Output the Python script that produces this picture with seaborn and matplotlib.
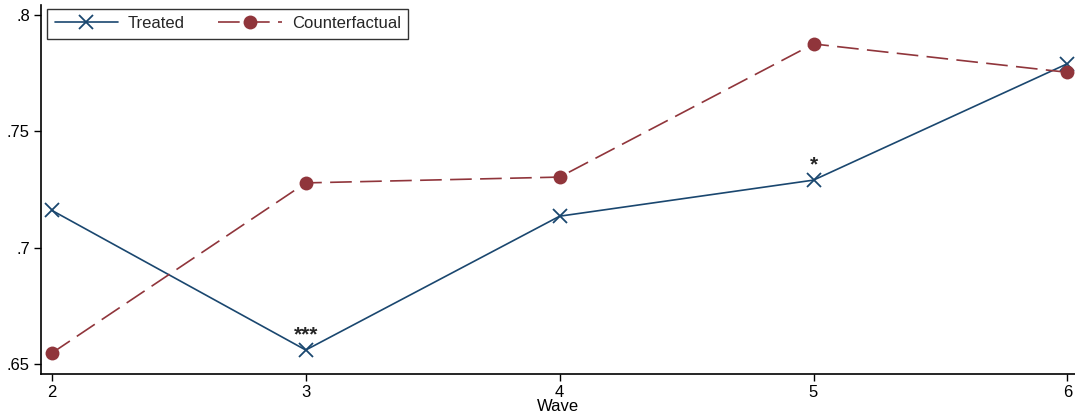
import matplotlib
matplotlib.use("Agg")
import matplotlib.pyplot as plt
import seaborn as sns
import pandas as pd

waves = [2, 3, 4, 5, 6]
treated = [0.716, 0.656, 0.7135, 0.729, 0.779]
counterfactual = [0.6547, 0.7278, 0.7303, 0.7875, 0.7753]
yticks = [0.65, 0.70, 0.75, 0.80]
ytick_labels = [".65", ".7", ".75", ".8"]
stars = {3: "***", 5: "*"}

sns.set_theme(style="ticks")
plt.rcParams["font.family"] = ["Liberation Sans", "DejaVu Sans"]

df = pd.DataFrame({
    "Wave": waves * 2,
    "value": treated + counterfactual,
    "series": ["Treated"] * len(waves) + ["Counterfactual"] * len(waves),
})

blue = "#1a476f"
red = "#90353b"

fig = plt.figure(figsize=(10.75, 4.2), dpi=100)
ax = fig.add_axes([0.0381, 0.1095, 0.9619, 0.879])

sns.lineplot(data=df[df.series == "Treated"], x="Wave", y="value", ax=ax,
             color=blue, linewidth=1.2, marker="x", markersize=10,
             markeredgewidth=1.3, markeredgecolor=blue, label="Treated")
sns.lineplot(data=df[df.series == "Counterfactual"], x="Wave", y="value", ax=ax,
             color=red, linewidth=1.2, marker="o", markersize=10,
             markeredgewidth=0, markerfacecolor=red, label="Counterfactual")
ax.lines[-1].set_dashes([13, 5])

for w, s in stars.items():
    i = waves.index(w)
    ax.annotate(s, (w, treated[i]), xytext=(0, 4), textcoords="offset points",
                ha="center", va="bottom", fontsize=15, fontweight="bold")

ax.set_xlim(1.957, 6.03)
ax.set_ylim(0.6457, 0.8043)
ax.set_xticks(waves)
ax.set_xticklabels([str(w) for w in waves])
ax.set_yticks(yticks)
ax.set_yticklabels(ytick_labels)
ax.tick_params(axis="both", labelsize=12, length=5, width=1, color="black",
               labelcolor="black", pad=3)
ax.set_xlabel("Wave", fontsize=12, labelpad=-1, color="black")
ax.set_ylabel("")
for side in ["top", "right"]:
    ax.spines[side].set_visible(False)
for side in ["left", "bottom"]:
    ax.spines[side].set_color("black")
    ax.spines[side].set_linewidth(1.2)

handles, labels = ax.get_legend_handles_labels()
handles[1].set_dashes([13, 5])
leg = ax.legend(handles, labels, loc="upper left", ncol=2, fontsize=12, frameon=True,
                fancybox=False, edgecolor="black", handlelength=3.8,
                handletextpad=0.6, columnspacing=2.0, borderpad=0.45,
                borderaxespad=0.0, bbox_to_anchor=(0.006, 0.99))
leg.get_frame().set_linewidth(1.0)

fig.savefig("out.png", dpi=100)
